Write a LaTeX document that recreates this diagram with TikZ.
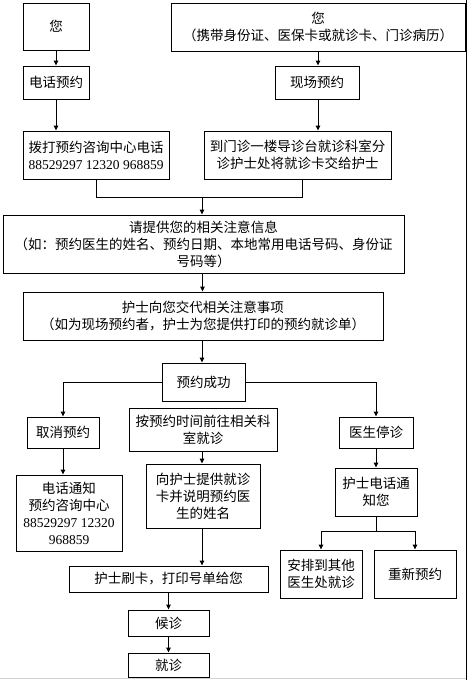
\documentclass[tikz,border=0pt]{standalone}
\usepackage{fontspec}
\setmainfont{Liberation Serif}
\newfontfamily\cjk{Noto Sans CJK SC}
\usetikzlibrary{arrows.meta, positioning, calc}
\tikzset{
    % Flow boxes
    pnode/.style={rectangle, draw=black, line width=1pt, fill=white,
                 align=center, inner sep=1pt,
                 font=\cjk\fontsize{13.5pt}{17pt}\selectfont},
    % Connectors
    parrow/.style={-{Triangle[length=5pt, width=4.5pt]}, line width=1pt, black},
    pline/.style={line width=1pt, black},
}
\newcommand{\num}[1]{{\rmfamily #1}}

\begin{document}
\begin{tikzpicture}[x=1pt, y=-1pt]
\useasboundingbox (0,0) rectangle (468,680);

% Page border
\draw[line width=1pt] (466,0) -- (466,680);
\draw[line width=1pt, gray!35] (0,678) -- (466,678);

% Start
\node[pnode, minimum width=66pt, minimum height=47pt] (you1) at (56,26.5) {您};
\node[pnode, minimum width=294pt, minimum height=48pt] (you2) at (318,27) {您\\（携带身份证、医保卡或就诊卡、门诊病历）};

% Booking ways
\node[pnode, minimum width=66pt, minimum height=33pt] (phone) at (56,82.5) {电话预约};
\node[pnode, minimum width=84pt, minimum height=33pt] (onsite) at (317,82.5) {现场预约};
\node[pnode, minimum width=146pt, minimum height=48pt] (dial) at (96,155) {拨打预约咨询中心电话\\\num{88529297 12320 968859}};
\node[pnode, minimum width=187pt, minimum height=48pt] (desk) at (297.5,155) {到门诊一楼导诊台就诊科室分\\诊护士处将就诊卡交给护士};

% Common steps
\node[pnode, minimum width=401pt, minimum height=58pt] (info) at (203.5,244) {请提供您的相关注意信息\\（如：预约医生的姓名、预约日期、本地常用电话号码、身份证\\号码等）};
\node[pnode, minimum width=360pt, minimum height=48pt] (nurse) at (203,316) {护士向您交代相关注意事项\\（如为现场预约者，护士为您提供打印的预约就诊单）};
\node[pnode, minimum width=83pt, minimum height=38pt] (success) at (203.5,382) {预约成功};

% Cancel
\node[pnode, minimum width=72pt, minimum height=31pt] (cancel) at (63,432.5) {取消预约};
\node[pnode, minimum width=106pt, minimum height=76pt] (notify) at (69,513) {电话通知\\预约咨询中心\\\num{88529297 12320}\\\num{968859}};

% Visit
\node[pnode, minimum width=148pt, minimum height=43pt] (goto) at (203,429.5) {按预约时间前往相关科\\室就诊};
\node[pnode, minimum width=114pt, minimum height=64pt] (provide) at (203,496) {向护士提供就诊\\卡并说明预约医\\生的姓名};
\node[pnode, minimum width=199pt, minimum height=26pt] (swipe) at (168.5,579) {护士刷卡，打印号单给您};
\node[pnode, minimum width=81pt, minimum height=26pt] (wait) at (168.5,623) {候诊};
\node[pnode, minimum width=81pt, minimum height=24pt] (visit) at (168.5,665) {就诊};

% Doctor off
\node[pnode, minimum width=74pt, minimum height=31pt] (stop) at (376,432.5) {医生停诊};
\node[pnode, minimum width=82pt, minimum height=48pt] (call) at (376,492) {护士电话通\\知您};
\node[pnode, minimum width=82pt, minimum height=48pt] (other) at (321,574) {安排到其他\\医生处就诊};
\node[pnode, minimum width=82pt, minimum height=48pt] (rebook) at (415,574) {重新预约};

% Junctions
\coordinate (join) at (202,197);
\coordinate (split) at (376,531);

% Arrows
\draw[parrow] (you1) -- (phone);
\draw[parrow] (you2.south) -- (you2.south |- onsite.north);
\draw[parrow] (phone.south) -- (phone.south |- dial.north);
\draw[parrow] ([xshift=1pt]onsite.south) -- ([xshift=1pt]onsite.south |- desk.north);
\draw[pline] (dial.south) |- (join);
\draw[pline] ([xshift=4.5pt]desk.south) |- (join);
\draw[parrow] (join) -- (join |- info.north);
\draw[parrow] ([xshift=-1pt]info.south) -- ([xshift=-1pt]info.south |- nurse.north);
\draw[parrow] ([xshift=-1pt]nurse.south) -- ([xshift=-1pt]nurse.south |- success.north);
\draw[parrow] (success.west) -| (cancel.north);
\draw[parrow] (success.east) -| (stop.north);
\draw[parrow] (cancel.south) -- (cancel.south |- notify.north);
\draw[parrow] ([xshift=-1pt]goto.south) -- ([xshift=-1pt]goto.south |- provide.north);
\draw[parrow] ([xshift=-1pt]provide.south) -- ([xshift=-1pt]provide.south |- swipe.north);
\draw[parrow] (stop) -- (call);
\draw[pline] (call.south) -- (split);
\draw[parrow] (split) -| (other.north);
\draw[parrow] (split) -| (rebook.north);
\draw[parrow] (swipe) -- (wait);
\draw[parrow] (wait) -- (visit);

\end{tikzpicture}
\end{document}
